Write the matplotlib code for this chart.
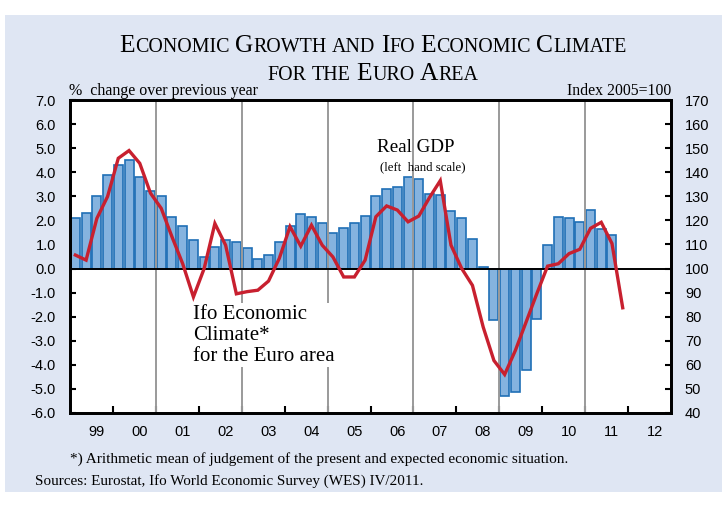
import numpy as np
import matplotlib
matplotlib.use('Agg')
import matplotlib.pyplot as plt
from matplotlib.patches import Rectangle

# Real GDP, % change over previous year, quarterly 1999Q1 - 2011Q3
gdp = [2.1, 2.3, 3.0, 3.9, 4.3, 4.5, 3.8, 3.2,
       3.0, 2.15, 1.75, 1.2, 0.5, 0.9, 1.2, 1.1,
       0.85, 0.38, 0.56, 1.12, 1.76, 2.27, 2.15, 1.9,
       1.49, 1.7, 1.9, 2.17, 3.0, 3.32, 3.37, 3.79,
       3.71, 3.1, 3.05, 2.4, 2.08, 1.21, 0.08, -2.12,
       -5.28, -5.14, -4.22, -2.08, 0.97, 2.13, 2.08, 1.94,
       2.43, 1.63, 1.38]

# Ifo economic climate, index 2005=100, quarterly 1999Q1 - 2011Q4
ifo = [105.6, 103.5, 120.8, 129.9, 145.8, 149.0, 143.7, 131.3,
       125.0, 113.2, 102.0, 88.2, 100.0, 118.7, 109.7, 89.5,
       90.4, 91.0, 94.8, 104.2, 117.4, 109.3, 118.0, 109.7,
       104.8, 96.5, 96.5, 103.5, 121.5, 126.0, 124.3, 119.4,
       121.8, 129.5, 136.5, 109.7, 100.0, 93.0, 75.7, 61.8,
       56.0, 66.0, 77.8, 89.6, 101.0, 102.0, 106.2, 108.0,
       116.7, 119.2, 110.4, 83.7]

year_labels = ['99', '00', '01', '02', '03', '04', '05', '06',
               '07', '08', '09', '10', '11', '12']
start_year = 1999

serif = 'Liberation Serif'
sans = 'Liberation Sans'
plt.rcParams['axes.unicode_minus'] = False

fig = plt.figure(figsize=(7.28, 5.15), dpi=100)
W, H = 728, 515

# light blue panel behind everything
fig.patches.append(Rectangle((5 / W, 1 - 492 / H), 717 / W, 477 / H,
                             transform=fig.transFigure, facecolor='#dfe6f3',
                             edgecolor='none', zorder=-5))

ax = fig.add_axes([70 / W, 1 - 413 / H, 601 / W, 313 / H])
ax.set_facecolor('white')

xq_gdp = start_year + 0.25 * np.arange(len(gdp)) + 0.125
xq_ifo = start_year + 0.25 * np.arange(len(ifo)) + 0.125

ax.bar(xq_gdp, gdp, width=0.21, color='#85b3df', edgecolor='#1f6fb6',
       linewidth=1.2, zorder=2)
ax.axhline(0, color='black', lw=1.4, zorder=3)

end_year = start_year + len(year_labels)
for yr in range(start_year + 2, end_year, 2):
    ax.axvline(yr, color='#9a9a9a', lw=1.4, zorder=2.5)

ax.set_xlim(start_year, end_year)
ax.set_ylim(-6, 7)
ax.set_yticks(np.arange(-6, 7.1, 1))
ax.set_yticklabels([f'{v:.1f}' for v in np.arange(-6, 7.1, 1)])
ax.set_xticks(np.arange(start_year + 1, end_year))
ax.set_xticklabels([])
ax.set_xticks(np.arange(start_year, end_year) + 0.62, minor=True)
ax.set_xticklabels(year_labels, minor=True)
ax.tick_params(axis='x', which='major', direction='in', length=5, width=1.5)
ax.tick_params(axis='x', which='minor', length=0, pad=9)
ax.tick_params(axis='y', direction='in', length=4, width=1.5, pad=10)
for lab in ax.get_xticklabels(minor=True) + ax.get_yticklabels():
    lab.set_fontfamily(sans)
    lab.set_fontsize(10.5)
for sp in ax.spines.values():
    sp.set_linewidth(2)

ax2 = ax.twinx()
ax2.plot(xq_ifo, ifo, color='#c8202f', lw=2.4, zorder=4,
         solid_joinstyle='miter')
ax2.set_ylim(40, 170)
ax2.set_yticks(np.arange(40, 171, 10))
ax2.tick_params(axis='y', direction='in', length=4, width=1.5, pad=10)
for lab in ax2.get_yticklabels():
    lab.set_fontfamily(sans)
    lab.set_fontsize(10.5)
for sp in ax2.spines.values():
    sp.set_linewidth(2)

# annotations
ax.text(2006.15, 4.85, 'Real GDP', family=serif, fontsize=13.7, ha='left',
        va='baseline', zorder=5)
ax.text(2006.22, 4.1, '(left  hand scale)', family=serif, fontsize=9.2,
        ha='left', va='baseline', zorder=5)
ax.text(2001.86, -1.5, 'Ifo Economic\nClimate*\nfor the Euro area',
        family=serif, fontsize=15, ha='left', va='top', linespacing=1.15,
        zorder=5, bbox=dict(facecolor='white', edgecolor='none', pad=1))

fig.text(69 / W, 1 - 95 / H, '%  change over previous year', family=serif,
         fontsize=11.5, ha='left', va='baseline')
fig.text(671 / W, 1 - 95 / H, 'Index 2005=100', family=serif,
         fontsize=11.3, ha='right', va='baseline')

fig.text(70 / W, 1 - 463 / H,
         '*) Arithmetic mean of judgement of the present and expected economic situation.',
         family=serif, fontsize=11, ha='left', va='baseline')
fig.text(35 / W, 1 - 485 / H,
         'Sources: Eurostat, Ifo World Economic Survey (WES) IV/2011.',
         family=serif, fontsize=10.9, ha='left', va='baseline')


# small caps title
def small_caps_line(words, y_px, big, small, cx_px=373):
    renderer = fig.canvas.get_renderer()
    items = []
    space = 0.22 * big * 100 / 72
    for word in words:
        parts = []
        for s, is_big in word:
            t = fig.text(0, 0, s, family=serif, fontsize=big if is_big else small,
                         va='baseline', ha='left')
            parts.append(t)
        items.append(parts)
    widths = [[t.get_window_extent(renderer).width for t in parts] for parts in items]
    total = sum(sum(w) for w in widths) + space * (len(items) - 1)
    x = cx_px - total / 2
    for parts, ws in zip(items, widths):
        for t, w in zip(parts, ws):
            t.set_position((x / W, 1 - y_px / H))
            x += w
        x += space


line1 = [[('E', 1), ('CONOMIC', 0)], [('G', 1), ('ROWTH', 0)], [('AND', 0)],
         [('I', 1), ('FO', 0)], [('E', 1), ('CONOMIC', 0)], [('C', 1), ('LIMATE', 0)]]
line2 = [[('FOR', 0)], [('THE', 0)], [('E', 1), ('URO', 0)], [('A', 1), ('REA', 0)]]
small_caps_line(line1, 52, 18.4, 14.4)
small_caps_line(line2, 80, 18.4, 14.4)

fig.savefig('out.png', dpi=100, facecolor='white')
